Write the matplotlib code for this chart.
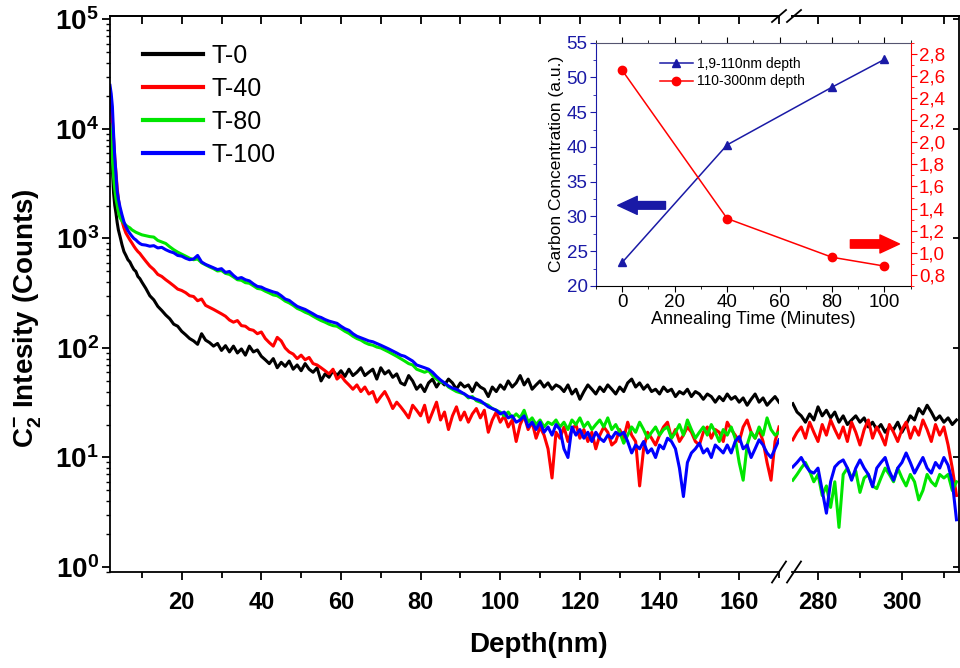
import numpy as np
import matplotlib
matplotlib.use("Agg")
import matplotlib.pyplot as plt
from matplotlib.ticker import MultipleLocator, FixedLocator, FuncFormatter, NullFormatter, LogLocator
from matplotlib.lines import Line2D

plt.rcParams['font.family'] = ['Liberation Sans', 'DejaVu Sans']
plt.rcParams['mathtext.fontset'] = 'custom'
plt.rcParams['mathtext.rm'] = 'Liberation Sans'
plt.rcParams['mathtext.bf'] = 'Liberation Sans:bold'

# ---- main SIMS-like depth profiles (depth in nm, counts) ----
depth_near = [2.0, 2.3, 2.6, 2.9, 3.2, 3.5, 3.8, 4.1, 4.5, 5.0,
              5.5, 6.0, 6.5, 7.0, 7.5, 8.0, 8.5, 9.0, 9.5, 10.0]
depth_mid = np.arange(11, 171)          # 11..170 nm
depth_deep = np.arange(274, 314)        # 274..313 nm (after axis break)

t0_near = [8000, 5500, 4200, 2600, 2000, 1700, 1400, 1200, 1050, 880,
           760, 700, 640, 610, 560, 520, 500, 450, 430, 400]
t0_mid = [350, 300, 275, 240, 220, 200, 185, 165, 158, 142,
          132, 122, 116, 108, 135, 118, 112, 104, 110, 95,
          105, 92, 104, 90, 98, 86, 104, 92, 96, 84,
          78, 72, 80, 66, 74, 68, 76, 64, 70, 62,
          72, 64, 60, 66, 50, 58, 54, 62, 56, 62,
          55, 64, 56, 60, 66, 56, 60, 64, 52, 66,
          58, 62, 54, 58, 48, 46, 56, 50, 42, 46,
          40, 48, 52, 44, 50, 46, 52, 48, 42, 48,
          44, 46, 40, 48, 44, 42, 36, 44, 40, 46,
          42, 50, 44, 48, 56, 46, 52, 42, 46, 50,
          44, 48, 42, 46, 44, 40, 46, 38, 42, 34,
          40, 46, 42, 38, 44, 40, 46, 42, 38, 44,
          40, 48, 52, 44, 48, 42, 46, 40, 42, 38,
          44, 40, 42, 36, 40, 38, 42, 36, 40, 38,
          34, 38, 36, 32, 36, 33, 38, 34, 36, 32,
          35, 30, 34, 38, 32, 35, 30, 33, 36, 32]
t0_deep = [31, 26, 24, 21, 25, 22, 29, 24, 27, 23,
           26, 21, 24, 20, 22, 24, 21, 23, 19, 21,
           18, 20, 17, 19, 18, 21, 17, 20, 24, 22,
           28, 25, 30, 26, 22, 24, 21, 23, 20, 22]

t40_near = [22000, 17000, 12000, 8000, 5500, 4000, 2900, 2300, 1800, 1450,
            1250, 1120, 1040, 970, 910, 850, 800, 760, 730, 690]
t40_mid = [620, 560, 520, 470, 450, 420, 395, 370, 345, 335,
           320, 300, 295, 270, 280, 245, 235, 225, 215, 205,
           195, 180, 172, 178, 160, 158, 148, 145, 135, 140,
           122, 112, 104, 125, 116, 100, 92, 88, 80, 86,
           78, 82, 72, 70, 66, 62, 58, 64, 52, 56,
           50, 46, 42, 46, 40, 44, 38, 40, 32, 36,
           40, 34, 28, 32, 29, 26, 23, 30, 27, 24,
           30, 21, 26, 32, 22, 26, 18, 24, 29, 22,
           26, 21, 25, 28, 23, 27, 17, 22, 26, 21,
           24, 19, 22, 14, 20, 24, 18, 21, 15, 19,
           16, 12, 6.5, 17, 15, 19, 14, 18, 20, 15,
           18, 14, 17, 12, 16, 19, 17, 13, 14, 18,
           15, 21, 16, 14, 5.5, 12, 17, 15, 13, 16,
           19, 21, 15, 18, 14, 16, 19, 17, 14, 13,
           17, 19, 15, 18, 17, 14, 21, 18, 16, 14,
           19, 22, 17, 15, 18, 14, 9, 6.2, 14, 19]
t40_deep = [14.5, 17, 19, 15, 21, 17, 14, 20, 16, 22,
            18, 15, 19, 14, 21, 17, 13, 18, 22, 15,
            19, 16, 13, 20, 17, 14, 18, 21, 15, 19,
            16, 22, 18, 14, 20, 16, 19, 13, 8, 4.5]

t80_near = [11000, 7500, 5200, 3600, 2800, 2300, 2000, 1750, 1550, 1450,
            1380, 1320, 1280, 1250, 1200, 1170, 1140, 1120, 1100, 1080]
t80_mid = [1060, 1040, 1030, 960, 930, 900, 840, 790, 750, 720,
           690, 660, 640, 650, 600, 575, 550, 530, 505, 510,
           480, 470, 445, 420, 415, 395, 390, 370, 350, 345,
           330, 318, 305, 300, 285, 268, 258, 245, 230, 222,
           212, 205, 195, 186, 178, 172, 165, 160, 158, 150,
           142, 136, 128, 122, 118, 112, 108, 106, 102, 100,
           96, 92, 88, 84, 80, 76, 72, 70, 64, 62,
           60, 62, 56, 52, 49, 48, 44, 42, 40, 39,
           38, 35, 36, 33, 32, 31, 30, 28, 27, 26,
           24, 26, 23, 25, 23, 27, 21, 23, 20, 22,
           19, 21, 20, 22, 19, 21, 18, 22, 20, 23,
           19, 21, 18, 20, 22, 19, 23, 18, 20, 17,
           13.5, 16, 19, 17, 21, 18, 15, 17, 19, 16,
           18, 19, 15, 17, 20, 16, 22, 18, 15, 17,
           19, 16, 20, 17, 14, 18, 16, 19, 15, 9,
           6.2, 13, 17, 15, 19, 16, 23, 18, 16, 17]
t80_deep = [6.2, 7, 8, 9, 7.5, 6, 7, 4.5, 5.5, 3.5,
            6, 2.3, 7, 8, 6.5, 7.5, 4.8, 6.5, 7, 5.5,
            5.2, 6.5, 8, 7, 6, 8, 6.5, 5.5, 7, 6,
            4.1, 5, 7, 6, 5.5, 7, 6.5, 7, 5, 6]

t100_near = [25000, 21000, 16000, 9000, 5500, 3800, 2700, 2300, 1950, 1650,
             1420, 1280, 1180, 1110, 1050, 1000, 970, 930, 900, 880]
t100_mid = [870, 850, 860, 820, 830, 790, 760, 740, 700, 690,
            660, 640, 650, 700, 610, 580, 560, 540, 520, 530,
            490, 500, 460, 430, 440, 420, 410, 385, 365, 360,
            345, 335, 325, 318, 300, 280, 272, 255, 240, 232,
            225, 215, 205, 195, 190, 182, 176, 172, 168, 158,
            150, 145, 135, 128, 124, 120, 116, 114, 110, 106,
            102, 98, 94, 90, 86, 84, 80, 76, 70, 68,
            66, 64, 60, 55, 51, 48, 45, 43, 42, 40,
            38, 36, 35, 34, 33, 31, 29, 28, 27, 25,
            26, 23, 24, 21, 22, 24, 19, 21, 18, 21,
            17, 19, 16, 20, 18, 12, 10, 19, 16, 18,
            15, 17, 14, 17, 15, 14, 16, 15, 17, 16,
            17, 14, 11, 13, 12, 14, 11, 12, 10, 13,
            12, 15, 14, 12, 8, 4.4, 9, 11, 12, 13.5,
            11, 12, 10, 13, 12, 11, 13, 11, 14, 15.5,
            12, 13, 10, 12, 14.5, 13, 11, 10, 12, 14.5]
t100_deep = [8.2, 9, 10, 8.5, 7.5, 7.2, 8, 5, 3.1, 6,
             8.2, 9, 9.5, 8, 6.2, 8, 9.5, 8, 7, 5.4,
             8, 9, 10, 7.5, 6.2, 8, 9, 11, 9, 7.2,
             8.5, 10, 8, 7.2, 9, 8, 10, 8.5, 6, 2.7]

labels = ['T-0', 'T-40', 'T-80', 'T-100']
colors = ['#000000', '#ff0000', '#00e600', '#0000ff']

# ---- inset data ----
anneal_time = [0, 40, 80, 100]
conc_shallow = [23.4, 40.3, 48.6, 52.6]   # 1,9-110nm depth, left axis
conc_deep = [2.65, 1.31, 0.96, 0.88]       # 110-300nm depth, right axis

W, H = 960, 668


def px(x0, y0, x1, y1):
    return [x0 / W, 1 - y1 / H, (x1 - x0) / W, (y1 - y0) / H]


fig = plt.figure(figsize=(9.6, 6.68), dpi=100)
ax1 = fig.add_axes(px(110, 16, 779, 572))
ax2 = fig.add_axes(px(792, 16, 959, 572))

left_x = list(depth_near) + list(depth_mid)
series_left = [t0_near + t0_mid, t40_near + t40_mid, t80_near + t80_mid, t100_near + t100_mid]
series_right = [t0_deep, t40_deep, t80_deep, t100_deep]

for yl, yr, lab, col in zip(series_left, series_right, labels, colors):
    ax1.plot(left_x, yl, color=col, lw=2.2, label=lab)
    ax2.plot(depth_deep, yr, color=col, lw=2.2)

ylab = lambda v, p: r'$\mathbf{10^{%d}}$' % int(round(np.log10(v)))
for ax in (ax1, ax2):
    ax.set_yscale('log')
    ax.set_ylim(0.9, 1.076e5)
    ax.yaxis.set_major_locator(FixedLocator([1, 10, 100, 1e3, 1e4, 1e5]))
    ax.yaxis.set_minor_locator(LogLocator(base=10, subs=np.arange(2, 10), numticks=20))
    for s in ax.spines.values():
        s.set_linewidth(1.3)
    ax.tick_params(axis='x', which='major', direction='out', length=6, width=1.3,
                   labelsize=17, pad=8, bottom=True, top=False)
    ax.tick_params(axis='x', which='minor', direction='out', length=4, width=1.3,
                   bottom=True, top=False)

ax1.set_xlim(2, 170)
ax1.xaxis.set_major_locator(MultipleLocator(20))
ax1.xaxis.set_minor_locator(MultipleLocator(10))
ax1.spines['right'].set_visible(False)
ax1.yaxis.set_major_formatter(FuncFormatter(ylab))
ax1.yaxis.set_minor_formatter(NullFormatter())
ax1.tick_params(axis='y', which='major', direction='out', length=6, width=1.3,
                labelsize=20, pad=2, left=True, right=False)
ax1.tick_params(axis='y', which='minor', direction='out', length=3, width=1.0,
                left=True, right=False)

ax2.set_xlim(273.8, 313.6)
ax2.xaxis.set_major_locator(MultipleLocator(20))
ax2.xaxis.set_minor_locator(MultipleLocator(10))
ax2.spines['left'].set_visible(False)
ax2.tick_params(axis='y', which='both', left=False, labelleft=False)
ax2.tick_params(axis='y', which='major', direction='in', length=4, width=1.3, right=True)
ax2.tick_params(axis='y', which='minor', right=False)

for ax in (ax1, ax2):
    for t in ax.get_xticklabels():
        t.set_fontweight('bold')
    top = ax.secondary_xaxis('top')
    top.xaxis.set_major_locator(MultipleLocator(20))
    top.xaxis.set_minor_locator(MultipleLocator(10))
    top.tick_params(which='both', direction='in', length=6, width=1.3, labeltop=False)
    top.spines['top'].set_linewidth(1.3)

# axis break marks
for yb, hh in ((572, 21), (16, 12)):
    for x0 in (772, 787):
        fig.add_artist(Line2D([x0 / W, (x0 + 14) / W],
                              [1 - (yb + hh / 2) / H, 1 - (yb - hh / 2) / H],
                              color='black', lw=1.3))

leg = ax1.legend(loc='upper left', bbox_to_anchor=(0.049, 0.95), frameon=False,
                 fontsize=18, handlelength=2.4, handletextpad=0.36,
                 labelspacing=0.36, borderpad=0, borderaxespad=0)
for h in leg.get_lines():
    h.set_linewidth(3)

fig.text(538 / W, 1 - 645 / H, 'Depth(nm)', ha='center', va='center',
         fontsize=20, fontweight='bold')
fig.text(27 / W, 1 - 318 / H, r'C$_{\mathbf{2}}^{\mathbf{-}}$ Intesity (Counts)',
         ha='center', va='center', rotation=90, fontsize=20, fontweight='bold')

# ---- inset ----
blue_i = '#1a1aa6'
red_i = '#ff0000'
axi = fig.add_axes(px(596, 42.7, 910.7, 286))
axi.set_facecolor('white')
axi.set_xlim(-10, 110)
axi.set_ylim(20, 55)
l1, = axi.plot(anneal_time, conc_shallow, color=blue_i, lw=1.1, marker='^', ms=6,
               label='1,9-110nm depth')
axr = axi.twinx()
axr.set_ylim(0.7, 2.9)
l2, = axr.plot(anneal_time, conc_deep, color=red_i, lw=1.1, marker='o', ms=6,
               label='110-300nm depth')

axi.xaxis.set_major_locator(MultipleLocator(20))
axi.xaxis.set_minor_locator(MultipleLocator(10))
axi.yaxis.set_major_locator(MultipleLocator(5))
axi.yaxis.set_minor_locator(MultipleLocator(2.5))
axr.yaxis.set_major_locator(FixedLocator([0.8, 1.0, 1.2, 1.4, 1.6, 1.8, 2.0, 2.2, 2.4, 2.6, 2.8]))
axr.yaxis.set_minor_locator(MultipleLocator(0.1))
axr.yaxis.set_major_formatter(FuncFormatter(lambda v, p: ('%.1f' % v).replace('.', ',')))

axi.tick_params(axis='x', which='major', direction='out', length=4, labelsize=13.5,
                pad=2, top=True, color='black')
axi.tick_params(axis='x', which='minor', direction='out', length=2.5, top=True)
axi.tick_params(axis='y', which='major', direction='out', length=4, labelsize=13.5,
                pad=2, colors=blue_i)
axi.tick_params(axis='y', which='minor', direction='out', length=2.5, colors=blue_i)
axr.tick_params(axis='y', which='major', direction='out', length=4, labelsize=13.5,
                pad=2, colors=red_i)
axr.tick_params(axis='y', which='minor', direction='out', length=2.5, colors=red_i)

axi.spines['left'].set_color(blue_i)
axi.spines['right'].set_visible(False)
axi.spines['top'].set_color('#555570')
axr.spines['right'].set_color(red_i)
for s in ('left', 'top', 'bottom'):
    axr.spines[s].set_visible(False)

axi.set_xlabel('Annealing Time (Minutes)', fontsize=13, labelpad=0)
axi.set_ylabel('Carbon Concentration (a.u.)', fontsize=12.5, labelpad=2)

axi.legend([l1, l2], [l1.get_label(), l2.get_label()], loc='upper left',
           bbox_to_anchor=(0.18, 0.97), frameon=False, fontsize=10,
           handlelength=2.4, handletextpad=0.3, labelspacing=0.25, borderpad=0)

axi.annotate('', xy=(-1.7, 31.6), xytext=(16.5, 31.6), annotation_clip=False,
             arrowprops=dict(arrowstyle='simple,head_length=1.4,head_width=1.3,tail_width=0.55',
                             color=blue_i, shrinkA=0, shrinkB=0, mutation_scale=10))
axr.annotate('', xy=(105.7, 1.08), xytext=(87, 1.08), annotation_clip=False,
             arrowprops=dict(arrowstyle='simple,head_length=1.4,head_width=1.3,tail_width=0.6',
                             color=red_i, shrinkA=0, shrinkB=0, mutation_scale=10))

fig.savefig('out.png', dpi=100)
